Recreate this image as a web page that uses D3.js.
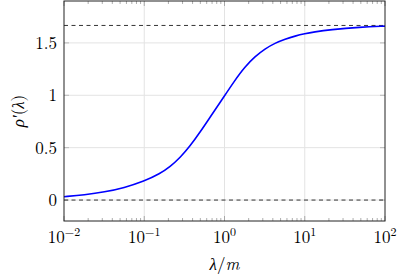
<!DOCTYPE html>
<html>
<head>
<meta charset="utf-8">
<script src="https://cdn.jsdelivr.net/npm/d3@7"></script>
<style>
  body { margin: 0; background: #fff; }
  text { font-family: "Latin Modern Roman", "Liberation Serif", "DejaVu Serif", serif; fill: #000; }
</style>
</head>
<body>
<div id="chart"></div>
<script>
// values
let lambdas = [0.01, 0.018, 0.032, 0.056, 0.1, 0.157, 0.21, 0.28, 0.37, 0.5, 0.66, 0.88,
  1.35, 1.8, 2.4, 3.2, 4.26, 5.7, 7.6, 10, 13, 20.7, 48.8, 100];
let rhoPrime = [0.032, 0.05, 0.076, 0.117, 0.18, 0.252, 0.318, 0.405, 0.512, 0.652, 0.79, 0.93,
  1.145, 1.272, 1.37, 1.444, 1.498, 1.536, 1.566, 1.588, 1.604, 1.626, 1.651, 1.66];
let refLines = [0, 5 / 3];
let yTicks = [0, 0.5, 1, 1.5];
let yTickLabels = ["0", "0.5", "1", "1.5"];
let xTicks = [0.01, 0.1, 1, 10, 100];
let xTickExps = ["\u22122", "\u22121", "0", "1", "2"];

let svgWidth = 398;
let svgHeight = 278;
let margin = { top: 1, right: 13, bottom: 57, left: 64 };
let width = svgWidth - margin.left - margin.right;
let height = svgHeight - margin.top - margin.bottom;

let svg = d3.select("#chart")
  .append("svg")
  .attr("width", svgWidth)
  .attr("height", svgHeight);

let chartGroup = svg.append("g")
  .attr("transform", `translate(${margin.left}, ${margin.top})`);

let x = d3.scaleLog().domain([0.01, 100]).range([0, width]);
let y = d3.scaleLinear().domain([-0.2, 1.9]).range([height, 0]);

//grid
chartGroup.append("g").selectAll("line")
  .data(xTicks.slice(1, -1))
  .enter().append("line")
  .attr("x1", d => x(d)).attr("x2", d => x(d))
  .attr("y1", 0).attr("y2", height)
  .attr("stroke", "#e3e3e3").attr("stroke-width", 1);
chartGroup.append("g").selectAll("line")
  .data(yTicks)
  .enter().append("line")
  .attr("x1", 0).attr("x2", width)
  .attr("y1", d => y(d)).attr("y2", d => y(d))
  .attr("stroke", "#e3e3e3").attr("stroke-width", 1);

//minor ticks on x, top and bottom
let minor = [];
xTicks.slice(0, -1).forEach(t => { for (let k = 2; k < 10; k++) minor.push(t * k); });
[height, 0].forEach(base => {
  let dir = base === 0 ? 1 : -1;
  chartGroup.append("g").selectAll("line")
    .data(minor)
    .enter().append("line")
    .attr("x1", d => x(d)).attr("x2", d => x(d))
    .attr("y1", base).attr("y2", base + dir * 3)
    .attr("stroke", "#999").attr("stroke-width", 0.8);
  chartGroup.append("g").selectAll("line")
    .data(xTicks)
    .enter().append("line")
    .attr("x1", d => x(d)).attr("x2", d => x(d))
    .attr("y1", base).attr("y2", base + dir * 5)
    .attr("stroke", "#999").attr("stroke-width", 0.8);
});
//y ticks left and right
[0, width].forEach(base => {
  let dir = base === 0 ? 1 : -1;
  chartGroup.append("g").selectAll("line")
    .data(yTicks)
    .enter().append("line")
    .attr("x1", base).attr("x2", base + dir * 5)
    .attr("y1", d => y(d)).attr("y2", d => y(d))
    .attr("stroke", "#bbb").attr("stroke-width", 1);
});

//dashed reference lines
chartGroup.append("g").selectAll("line")
  .data(refLines)
  .enter().append("line")
  .attr("x1", 0).attr("x2", width)
  .attr("y1", d => y(d)).attr("y2", d => y(d))
  .attr("stroke", "#333").attr("stroke-width", 1)
  .attr("stroke-dasharray", "4,3.5");

//curve
let pts = lambdas.map((l, i) => [l, rhoPrime[i]]);
let line = d3.line()
  .x(d => x(d[0]))
  .y(d => y(d[1]))
  .curve(d3.curveBasis);
chartGroup.append("path")
  .datum(pts)
  .attr("d", line)
  .attr("fill", "none")
  .attr("stroke", "#0000ff")
  .attr("stroke-width", 1.6);

//frame
chartGroup.append("rect")
  .attr("x", 0).attr("y", 0)
  .attr("width", width).attr("height", height)
  .attr("fill", "none")
  .attr("stroke", "#222").attr("stroke-width", 1);

//y tick labels
chartGroup.append("g").selectAll("text")
  .data(yTicks)
  .enter().append("text")
  .attr("x", -7)
  .attr("y", d => y(d) + 6)
  .attr("text-anchor", "end")
  .attr("font-size", 17)
  .text((d, i) => yTickLabels[i]);

//x tick labels 10^k
let xl = chartGroup.append("g").selectAll("text")
  .data(xTicks)
  .enter().append("text")
  .attr("x", d => x(d))
  .attr("y", height + 22)
  .attr("text-anchor", "middle")
  .attr("font-size", 17);
xl.append("tspan").text("10");
xl.append("tspan")
  .attr("dy", -7)
  .attr("font-size", 12)
  .text((d, i) => xTickExps[i]);

//axis titles
let xt = chartGroup.append("text")
  .attr("x", width / 2)
  .attr("y", height + 49)
  .attr("text-anchor", "middle")
  .attr("font-size", 17);
xt.append("tspan").attr("font-style", "italic").text("\u03bb");
xt.append("tspan").text("/");
xt.append("tspan").attr("font-style", "italic").text("m");

let yt = chartGroup.append("text")
  .attr("transform", `translate(${-40}, ${height / 2}) rotate(-90)`)
  .attr("text-anchor", "middle")
  .attr("font-size", 17);
yt.append("tspan").attr("font-style", "italic").text("\u03c1\u2032");
yt.append("tspan").text("(");
yt.append("tspan").attr("font-style", "italic").text("\u03bb");
yt.append("tspan").text(")");
</script>
</body>
</html>
